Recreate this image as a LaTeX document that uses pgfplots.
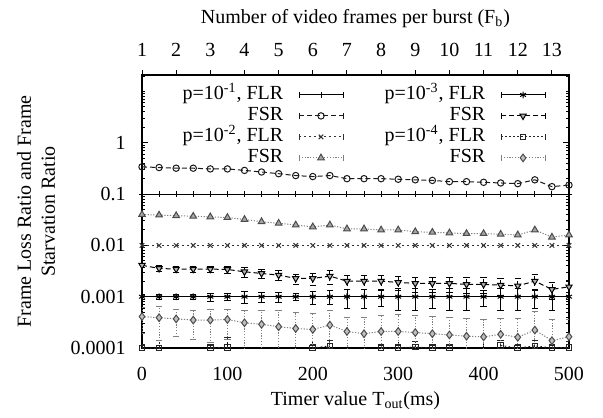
\documentclass[border=0pt]{standalone}
\usepackage{pgfplots}
\usepackage{pgfplotstable}
\pgfplotsset{compat=1.18}
\usepackage{fontspec}
\setmainfont{Liberation Serif}

% FSR, p=1e-1
\pgfplotstableread{
x y
0 0.34
20 0.33
40 0.32
60 0.32
80 0.31
100 0.31
120 0.29
140 0.27
160 0.25
180 0.23
200 0.22
220 0.23
240 0.20
260 0.20
280 0.20
300 0.195
320 0.19
340 0.185
360 0.175
380 0.175
400 0.17
420 0.165
440 0.16
460 0.19
480 0.14
500 0.15
}\fsrA

% FSR, p=1e-2
\pgfplotstableread{
x y
0 0.040
20 0.039
40 0.038
60 0.037
80 0.036
100 0.035
120 0.032
140 0.029
160 0.027
180 0.025
200 0.023
220 0.025
240 0.021
260 0.021
280 0.020
300 0.020
320 0.0185
340 0.018
360 0.0175
380 0.017
400 0.017
420 0.0165
440 0.016
460 0.020
480 0.0145
500 0.016
}\fsrB

% FLR, p=1e-3
\pgfplotstableread{
x y ep em
0 0.001 0.00012 0.00012
20 0.001 0.00012 0.00012
40 0.001 0.00012 0.00012
60 0.001 0.00012 0.00012
80 0.001 0.00018 0.00018
100 0.001 0.00015 0.00015
120 0.001 0.00025 0.00025
140 0.001 0.00022 0.00022
160 0.001 0.00022 0.00022
180 0.001 0.00015 0.00015
200 0.001 0.00028 0.00028
220 0.001 0.00030 0.00030
240 0.001 0.00040 0.00040
260 0.001 0.00040 0.00040
280 0.001 0.00035 0.00035
300 0.001 0.00045 0.00045
320 0.001 0.00045 0.00045
340 0.001 0.00040 0.00040
360 0.001 0.00045 0.00045
380 0.001 0.00045 0.00045
400 0.001 0.00035 0.00035
420 0.001 0.00045 0.00045
440 0.001 0.00045 0.00045
460 0.001 0.00040 0.00040
480 0.001 0.00045 0.00045
500 0.001 0.00020 0.00020
}\flrC

% FSR, p=1e-3
\pgfplotstableread{
x y ep em
0 0.0041 0.0004 0.0004
20 0.00356 0.0005 0.0005
40 0.00345 0.0005 0.0005
60 0.00345 0.0005 0.0005
80 0.00345 0.0005 0.0005
100 0.0034 0.0005 0.0005
120 0.00306 0.0007 0.0007
140 0.00284 0.0006 0.0006
160 0.00264 0.0006 0.0006
180 0.00227 0.0005 0.0005
200 0.00227 0.0006 0.0006
220 0.00252 0.0008 0.0008
240 0.00201 0.0006 0.0006
260 0.00201 0.0006 0.0006
280 0.00201 0.0006 0.0006
300 0.0019 0.0006 0.0006
320 0.00182 0.0006 0.0006
340 0.00182 0.0006 0.0006
360 0.00182 0.0006 0.0006
380 0.00174 0.0006 0.0006
400 0.00174 0.0006 0.0006
420 0.00168 0.0006 0.0006
440 0.00163 0.0006 0.0006
460 0.00201 0.0007 0.0007
480 0.00139 0.0005 0.0005
500 0.00156 0.0005 0.0005
}\fsrC

% FLR, p=1e-4 (zero values are not shown on the log scale)
\pgfplotstableread{
x y ep em
0 1.0e-4 0.2e-4 0.2e-4
20 1.0e-4 0.4e-4 0.4e-4
40 nan 0 0
60 nan 0 0
80 1.0e-4 0.2e-4 0.2e-4
100 1.03e-4 0.6e-4 0.6e-4
120 nan 0 0
140 nan 0 0
160 nan 0 0
180 nan 0 0
200 1.0e-4 0.2e-4 0.2e-4
220 1.1e-4 0.3e-4 0.3e-4
240 nan 0 0
260 nan 0 0
280 1.0e-4 0.2e-4 0.2e-4
300 1.0e-4 0.2e-4 0.2e-4
320 1.05e-4 0.3e-4 0.3e-4
340 1.0e-4 0.2e-4 0.2e-4
360 1.0e-4 0.2e-4 0.2e-4
380 nan 0 0
400 nan 0 0
420 1.12e-4 0.3e-4 0.3e-4
440 1.0e-4 0.2e-4 0.2e-4
460 1.1e-4 0.3e-4 0.3e-4
480 1.0e-4 0.2e-4 0.2e-4
500 1.03e-4 0.3e-4 0.3e-4
}\flrD

% FSR, p=1e-4
\pgfplotstableread{
x y ep em
0 0.00041 0.00022 0.00022
20 0.00039 0.00025 0.00025
40 0.00037 0.00020 0.00020
60 0.00035 0.00020 0.00020
80 0.00035 0.00022 0.00022
100 0.00036 0.00021 0.00021
120 0.00031 0.00022 0.00022
140 0.00029 0.00026 0.00026
160 0.00026 0.00027 0.00025
180 0.00024 0.00026 0.00023
200 0.00023 0.00025 0.00022
220 0.00028 0.00026 0.00026
240 0.00021 0.00018 0.00018
260 0.00019 0.00020 0.00018
280 0.00021 0.00022 0.00020
300 0.00021 0.00024 0.00020
320 0.00020 0.00024 0.00019
340 0.00019 0.00022 0.00018
360 0.00018 0.00022 0.00017
380 0.00017 0.00020 0.00016
400 0.000165 0.00019 0.000155
420 0.000185 0.00020 0.000175
440 0.000162 0.00022 0.000152
460 0.000224 0.00030 0.000214
480 0.000139 0.00022 0.000129
500 0.000166 0.00020 0.000156
}\fsrD

\pgfplotsset{
  /pgf/number format/assume math mode=true,
  ebars/.style={
    error bars/y dir=both,
    error bars/y explicit,
    error bars/error mark options={rotate=90, mark size=1.6pt, solid},
  },
}

\begin{document}
\begin{tikzpicture}
\useasboundingbox (-71pt,-34.5pt) rectangle (230.5pt,174pt);

\begin{axis}[
  at={(0,0)}, anchor=south west,
  scale only axis, width=213.5pt, height=136.5pt,
  xmin=0, xmax=500,
  ymode=log, ymin=1e-4, ymax=21,
  xtick={0,100,200,300,400,500},
  xtick pos=left,
  ytick={1e-4,1e-3,1e-2,1e-1,1},
  yticklabels={0.0001,0.001,0.01,0.1,1},
  minor ytick={2e-4,3e-4,4e-4,5e-4,6e-4,7e-4,8e-4,9e-4,
               2e-3,3e-3,4e-3,5e-3,6e-3,7e-3,8e-3,9e-3,
               0.02,0.03,0.04,0.05,0.06,0.07,0.08,0.09,
               0.2,0.3,0.4,0.5,0.6,0.7,0.8,0.9,
               2,3,4,5,6,7,8,9,10,20},
  tick align=inside,
  major tick length=3pt, minor tick length=1.6pt,
  axis line style={line width=0.8pt},
  every tick/.style={black, line width=0.5pt},
  xticklabel style={yshift=-6pt},
  yticklabel style={xshift=-4.7pt},
  every axis x label/.style={at={(axis description cs:0.5,-0.209)}, anchor=base},
  every axis y label/.style={at={(axis description cs:-0.248,0.5)}, rotate=90, anchor=center, align=center},
  xlabel={Timer value T\textsubscript{out}(ms)},
  ylabel={Frame Loss Ratio and Frame\\Starvation Ratio},
  legend columns=2,
  legend plot pos=right,
  legend cell align=right,
  legend style={draw=none, fill=none, at={(axis description cs:0.946,0.967)}, anchor=north east,
    inner sep=0pt, row sep=0pt, column sep=7pt,
    /tikz/column 2/.style={column sep=20pt},
    nodes={inner sep=0.6pt, text height=7pt, text depth=2.3pt}},
  legend image code/.code={
    \draw[mark repeat=2, mark phase=2, #1] plot coordinates {(0pt,0pt) (11pt,0pt) (22pt,0pt)};
    \draw[#1, solid] (0pt,-1.6pt) -- (0pt,1.6pt) (22pt,-1.6pt) -- (22pt,1.6pt);
  },
  every axis plot/.append style={line width=0.5pt},
]

% p = 1e-1, FLR
\addplot[black, solid, mark=+, mark size=1.6pt] coordinates {
 (0,0.1) (20,0.1) (40,0.1) (60,0.1) (80,0.1) (100,0.1) (120,0.1) (140,0.1) (160,0.1)
 (180,0.1) (200,0.1) (220,0.1) (240,0.1) (260,0.1) (280,0.1) (300,0.1) (320,0.1)
 (340,0.1) (360,0.1) (380,0.1) (400,0.1) (420,0.1) (440,0.1) (460,0.1) (480,0.1) (500,0.1)};
\addlegendentry{p=10\textsuperscript{-1}, FLR}

% p = 1e-3, FLR
\addplot[black, solid, mark=asterisk, mark size=1.7pt, ebars]
  table[x=x, y=y, y error plus=ep, y error minus=em] {\flrC};
\addlegendentry{p=10\textsuperscript{-3}, FLR}

% p = 1e-1, FSR
\addplot[black!90, dash pattern=on 2.5pt off 1.5pt, mark=o, mark size=1.6pt, mark options={solid}]
  table[x=x, y=y] {\fsrA};
\addlegendentry{FSR}

% p = 1e-3, FSR
\addplot[black, dash pattern=on 2.5pt off 1.5pt, mark=triangle*, mark size=1.8pt,
  mark options={solid, rotate=180, fill=gray!60}, ebars]
  table[x=x, y=y, y error plus=ep, y error minus=em] {\fsrC};
\addlegendentry{FSR}

% p = 1e-2, FLR
\addplot[black!80, dash pattern=on 1pt off 1.5pt, mark=x, mark size=1.6pt, mark options={solid}] coordinates {
 (0,0.01) (20,0.01) (40,0.01) (60,0.01) (80,0.01) (100,0.01) (120,0.01) (140,0.01) (160,0.01)
 (180,0.01) (200,0.01) (220,0.01) (240,0.01) (260,0.01) (280,0.01) (300,0.01) (320,0.01)
 (340,0.01) (360,0.01) (380,0.01) (400,0.01) (420,0.01) (440,0.01) (460,0.01) (480,0.01) (500,0.01)};
\addlegendentry{p=10\textsuperscript{-2}, FLR}

% p = 1e-4, FLR
\addplot[black!85, dash pattern=on 0.8pt off 1.2pt, mark=square, mark size=1.4pt, mark options={solid},
  unbounded coords=jump, ebars]
  table[x=x, y=y, y error plus=ep, y error minus=em] {\flrD};
\addlegendentry{p=10\textsuperscript{-4}, FLR}

% p = 1e-2, FSR
\addplot[gray, dash pattern=on 0.6pt off 0.8pt, mark=triangle*, mark size=1.9pt,
  mark options={solid, fill=gray!70, draw=black!70}]
  table[x=x, y=y] {\fsrB};
\addlegendentry{FSR}

% p = 1e-4, FSR
\addplot[gray, dash pattern=on 0.6pt off 0.8pt, mark=diamond*, mark size=1.9pt,
  mark options={solid, fill=gray!50, draw=black!70}, ebars]
  table[x=x, y=y, y error plus=ep, y error minus=em] {\fsrD};
\addlegendentry{FSR}

\end{axis}

% upper axis: frames per burst
\begin{axis}[
  at={(0,0)}, anchor=south west,
  scale only axis, width=213.5pt, height=136.5pt,
  xmin=1, xmax=13.5, ymin=0, ymax=1,
  axis x line*=top, axis y line=none,
  axis line style={line width=0.8pt},
  xtick={1,2,...,13},
  tick align=outside,
  major tick length=2.5pt,
  every tick/.style={black, line width=0.5pt},
  xticklabel style={yshift=3pt},
  every axis x label/.style={at={(axis description cs:0.5,1.187)}, anchor=base},
  xlabel={Number of video frames per burst (F\textsubscript{b})},
]
\end{axis}
\end{tikzpicture}
\end{document}
